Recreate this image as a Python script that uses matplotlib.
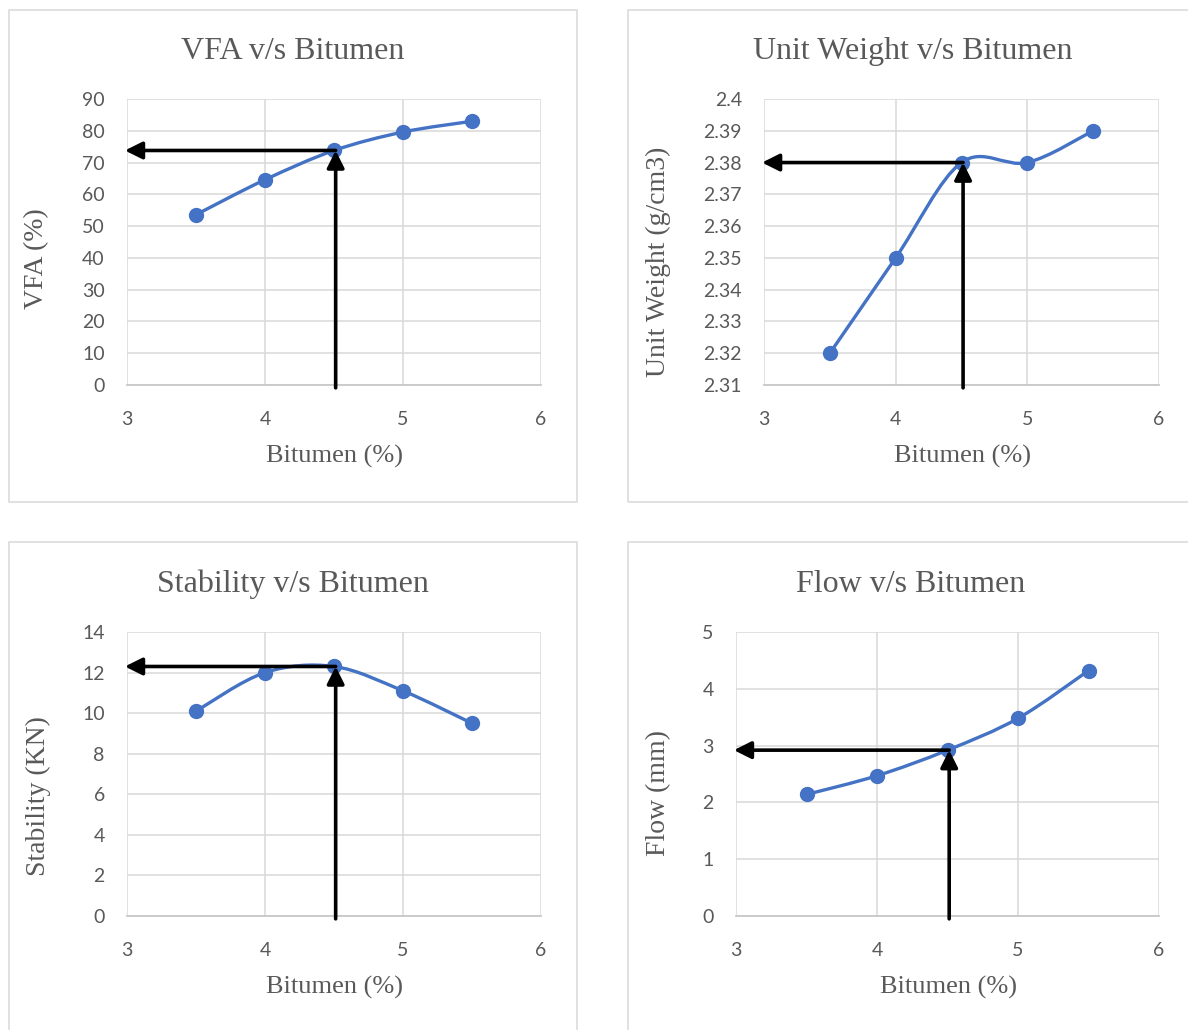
import numpy as np
import matplotlib.pyplot as plt
from matplotlib.path import Path
from matplotlib.patches import PathPatch, Rectangle

# Marshall mix design results
bitumen = [3.5, 4.0, 4.5, 5.0, 5.5]
vfa = [53.6, 64.6, 73.8, 79.6, 83.0]
unit_weight = [2.32, 2.35, 2.38, 2.38, 2.39]
stability = [10.1, 12.0, 12.3, 11.1, 9.5]
flow = [2.14, 2.47, 2.92, 3.48, 4.32]

optimum = 4.5  # optimum bitumen content (%)

titles = ["VFA v/s Bitumen", "Unit Weight v/s Bitumen",
          "Stability v/s Bitumen", "Flow v/s Bitumen"]
ylabels = ["VFA (%)", "Unit Weight (g/cm3)", "Stability (KN)", "Flow (mm)"]
series = [vfa, unit_weight, stability, flow]
yticks = [np.arange(0, 91, 10), np.round(np.arange(2.31, 2.4001, 0.01), 2),
          np.arange(0, 15, 2), np.arange(0, 6, 1)]

W, H = 1188, 1030
BLUE = "#4472C4"
GREY = "#595959"
GRID = "#d9d9d9"

fig = plt.figure(figsize=(W / 100, H / 100), dpi=100)
fig.patch.set_facecolor("white")


def fx(px):
    return px / W


def fy(py):
    return 1 - py / H


def smooth_path(x, y):
    # Catmull-Rom style bezier, like a spreadsheet "smoothed line"
    pts = np.column_stack([x, y]).astype(float)
    n = len(pts)
    verts = [pts[0]]
    codes = [Path.MOVETO]
    for i in range(n - 1):
        p0 = pts[max(i - 1, 0)]
        p1, p2 = pts[i], pts[i + 1]
        p3 = pts[min(i + 2, n - 1)]
        verts += [p1 + (p2 - p0) / 6, p2 - (p3 - p1) / 6, p2]
        codes += [Path.CURVE4] * 3
    return Path(verts, codes)


# panel frame (px), plot area (px), title baseline, xlabel baseline, ylabel centre
panels = [
    dict(frame=(9, 10, 577, 502), plot=(127, 99, 541, 385), tx=293, ty=59,
         xl=(334, 463), yl=(37, 259)),
    dict(frame=(628, 10, 1200, 502), plot=(764, 99, 1159, 385), tx=913, ty=59,
         xl=(962, 463), yl=(658, 262)),
    dict(frame=(9, 542, 577, 1040), plot=(127, 632, 541, 916), tx=293, ty=592,
         xl=(334, 994), yl=(38, 796)),
    dict(frame=(628, 542, 1200, 1040), plot=(736, 632, 1159, 916), tx=911, ty=592,
         xl=(948, 994), yl=(659, 793)),
]

for p, title, ylab, vals, ticks in zip(panels, titles, ylabels, series, yticks):
    x0, y0, x1, y1 = p["frame"]
    fig.add_artist(Rectangle((fx(x0), fy(y1)), fx(x1 - x0), (y1 - y0) / H,
                             transform=fig.transFigure, fill=False,
                             ec=GRID, lw=1.1))

    l, t, r, b = p["plot"]
    ax = fig.add_axes([fx(l), fy(b), fx(r - l), (b - t) / H])
    ax.set_xlim(3, 6)
    ax.set_xticks([3, 4, 5, 6])
    ax.set_ylim(ticks[0], ticks[-1])
    ax.set_yticks(ticks)
    ax.set_yticklabels([f"{v:g}" for v in ticks])
    ax.grid(True, color=GRID, lw=1.1)
    ax.set_axisbelow(True)
    for s in ax.spines.values():
        s.set_visible(False)
    ax.spines["bottom"].set_visible(True)
    ax.spines["bottom"].set_color("#c8c8c8")
    ax.spines["bottom"].set_linewidth(1.3)
    ax.tick_params(axis="both", length=0, labelsize=14, labelcolor=GREY)
    ax.tick_params(axis="x", pad=19)
    ax.tick_params(axis="y", pad=16)
    for lab in ax.get_xticklabels() + ax.get_yticklabels():
        lab.set_fontfamily("Lato")

    ax.add_patch(PathPatch(smooth_path(bitumen, vals), fill=False,
                           ec=BLUE, lw=2.4, zorder=3))
    ax.plot(bitumen, vals, "o", color=BLUE, ms=10, zorder=4)

    # optimum read-off arrows
    val = vals[bitumen.index(optimum)]
    ylo, yhi = ax.get_ylim()
    xa = optimum + 0.012
    arrow = dict(arrowstyle="-|>", lw=2.6, color="black", mutation_scale=26,
                 shrinkA=0, shrinkB=0)
    ax.annotate("", xy=(2.985, val), xytext=(xa, val),
                arrowprops=arrow, annotation_clip=False, zorder=5)
    ax.annotate("", xy=(xa, val), xytext=(xa, ylo - 0.01 * (yhi - ylo)),
                arrowprops=arrow, annotation_clip=False, zorder=5)

    fig.text(fx(p["tx"]), fy(p["ty"]), title, ha="center", va="baseline",
             fontsize=23, color=GREY, family="Liberation Serif")
    fig.text(fx(p["xl"][0]), fy(p["xl"][1]), "Bitumen (%)", ha="center",
             va="baseline", fontsize=19, color=GREY, family="Liberation Serif")
    fig.text(fx(p["yl"][0]), fy(p["yl"][1]), ylab, ha="center", va="center",
             rotation=90, fontsize=20, color=GREY, family="Liberation Serif")

fig.savefig("out.png", dpi=100, facecolor="white")
